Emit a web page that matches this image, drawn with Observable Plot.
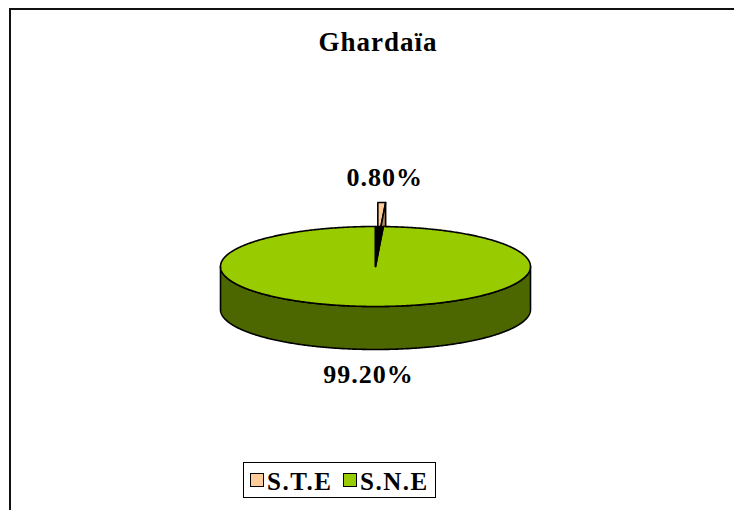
<!DOCTYPE html>
<html>
<head>
<meta charset="utf-8">
<script src="https://cdn.jsdelivr.net/npm/d3@7"></script>
<script src="https://cdn.jsdelivr.net/npm/@observablehq/plot@0.6"></script>
<style>
  body { margin: 0; background: #fff; }
  #wrap { position: relative; width: 734px; height: 510px; overflow: hidden;
          font-family: "Times New Roman", Times, "Liberation Serif", "DejaVu Serif", serif;
          font-weight: bold; color: #000; }
  #frame { position: absolute; left: 9px; top: 8px; width: 900px; height: 700px;
           border-top: 2px solid #111; border-left: 2px solid #111; }
  #chart { position: absolute; left: 0; top: 0; }
  #title { position: absolute; left: 0; width: 756px; top: 29px; text-align: center;
           font-size: 27px; line-height: 27px; letter-spacing: 1px; white-space: nowrap; }
  #legend { position: absolute; left: 243px; top: 462px; width: 191px; height: 34px;
            border: 1px solid #000; background: #fff; }
  .sw { position: absolute; top: 10px; width: 12px; height: 12px; border: 1.5px solid #000; }
  .lt { position: absolute; top: 6px; font-size: 25px; line-height: 25px; letter-spacing: 1.5px; white-space: nowrap; }
  svg text { font-family: "Times New Roman", Times, "Liberation Serif", "DejaVu Serif", serif; letter-spacing: 1px; }
</style>
</head>
<body>
<div id="wrap">
  <div id="frame"></div>
  <div id="chart"></div>
  <div id="title"></div>
  <div id="legend"></div>
</div>
<script>
// ---- data ----
const title = "Ghardaïa";
const categories = ["S.T.E", "S.N.E"];
const values = [0.8, 99.2];
const labels = ["0.80%", "99.20%"];
const colors = ["#FFCC99", "#99CC00"];
const sideColors = ["#B8895C", "#4C6600"];
const exploded = [true, false];

// ---- layout ----
const W = 734, H = 510;
const cx = 375, cy = 266, rx = 155, ry = 40, depth = 43;
const explodeR = 0.6, labRx = 280, labRy = 65;

const total = d3.sum(values);
let acc = 0;
const slices = values.map((v, i) => {
  const a0 = acc / total * 2 * Math.PI;
  acc += v;
  const a1 = acc / total * 2 * Math.PI;
  const mid = (a0 + a1) / 2;
  const ox = exploded[i] ? explodeR * rx * Math.sin(mid) : 0;
  const oy = exploded[i] ? -explodeR * ry * Math.cos(mid) : 0;
  return {i, a0, a1, mid, ox, oy};
});

const pt = (a, ox = 0, oy = 0, dz = 0) => ({x: cx + ox + rx * Math.sin(a), y: cy + oy - ry * Math.cos(a) + dz});
function arc(a0, a1, ox = 0, oy = 0, dz = 0) {
  const n = Math.max(2, Math.ceil(Math.abs(a1 - a0) / 0.01));
  return d3.range(n + 1).map(k => pt(a0 + (a1 - a0) * k / n, ox, oy, dz));
}
const close = p => p.concat([p[0]]);

const polys = [];
// exploded slices (behind)
slices.filter(s => exploded[s.i]).forEach(s => {
  const apex = {x: cx + s.ox, y: cy + s.oy};
  polys.push({pts: close([apex, ...arc(s.a0, s.a1, s.ox, s.oy)]), fill: colors[s.i]});
  const o1 = pt(s.a1, s.ox, s.oy), o1b = pt(s.a1, s.ox, s.oy, depth);
  polys.push({pts: close([apex, o1, o1b, {x: apex.x, y: apex.y + depth}]), fill: sideColors[s.i]});
});
// main pie: side wall (front half) of non-exploded slices
slices.filter(s => !exploded[s.i]).forEach(s => {
  const b0 = Math.max(s.a0, Math.PI / 2), b1 = Math.min(s.a1, 3 * Math.PI / 2);
  if (b1 > b0) {
    polys.push({pts: close([...arc(b0, b1), ...arc(b1, b0, 0, 0, depth)]), fill: sideColors[s.i]});
  }
});
// top faces of non-exploded slices
slices.filter(s => !exploded[s.i]).forEach(s => {
  polys.push({pts: close([{x: cx, y: cy}, ...arc(s.a0, s.a1)]), fill: colors[s.i]});
});
// hole left by exploded slices
slices.filter(s => exploded[s.i]).forEach(s => {
  polys.push({pts: close([{x: cx, y: cy}, ...arc(s.a0, s.a1)]), fill: "#000"});
});

const labelData = slices.map(s => {
  const c = Math.cos(s.mid);
  return {
    text: labels[s.i],
    x: cx + s.ox + labRx * Math.sin(s.mid),
    y: cy + s.oy - labRy * c + (c < 0 ? depth : 0)
  };
});

const marks = polys.map(p => Plot.line(p.pts, {
  x: "x", y: "y", fill: p.fill, stroke: "#000", strokeWidth: 1.6, strokeLinejoin: "round", curve: "linear"
}));
marks.push(Plot.text(labelData, {
  x: "x", y: "y", text: "text", fontSize: 26, fontWeight: "bold", fill: "#000"
}));

const chart = Plot.plot({
  width: W, height: H, margin: 0,
  x: {domain: [0, W], range: [0, W], axis: null},
  y: {domain: [0, H], range: [0, H], axis: null},
  style: {background: "transparent", overflow: "visible"},
  marks
});
document.getElementById("chart").appendChild(chart);

document.getElementById("title").textContent = title;

const lg = document.getElementById("legend");
const swX = [6, 99], txX = [23, 116];
categories.forEach((c, i) => {
  const sw = document.createElement("div");
  sw.className = "sw"; sw.style.left = swX[i] + "px"; sw.style.background = colors[i];
  lg.appendChild(sw);
  const t = document.createElement("div");
  t.className = "lt"; t.style.left = txX[i] + "px"; t.textContent = c;
  lg.appendChild(t);
});
</script>
</body>
</html>
